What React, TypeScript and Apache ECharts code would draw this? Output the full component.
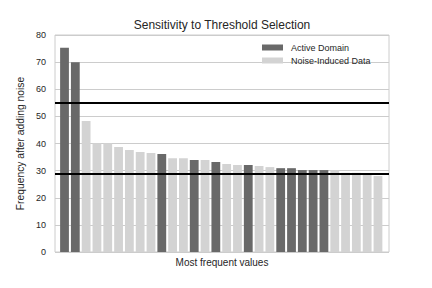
import React, { useEffect, useRef } from "react";
import * as echarts from "echarts";

const values = [75.3, 70.0, 48.3, 40.1, 40.1, 38.7, 37.6, 36.9, 36.5, 36.1, 34.6, 34.6, 33.9, 33.9, 33.2, 32.4, 32.1, 32.1, 31.7, 31.3, 30.9, 30.9, 30.2, 30.2, 30.2, 30.1, 29.2, 29.2, 28.4, 28.0];
const activeFlags = [1, 1, 0, 0, 0, 0, 0, 0, 0, 1, 0, 0, 1, 0, 1, 0, 0, 1, 0, 0, 1, 1, 1, 1, 1, 0, 0, 0, 0, 0];
const thresholds = [55, 29];
const yTicks = [0, 10, 20, 30, 40, 50, 60, 70, 80];
const seriesNames = ["Active Domain", "Noise-Induced Data"];

const FONT = "Liberation Sans, Arial, sans-serif";

export default function App() {
  const ref = useRef<HTMLDivElement>(null);
  useEffect(() => {
    if (!ref.current) return;
    const chart = echarts.init(ref.current, undefined, { renderer: "svg" });
    const activeData = values.map((v, i) => [i, activeFlags[i] ? v : "-"]);
    const noiseData = values.map((v, i) => [i, activeFlags[i] ? "-" : v]);
    chart.setOption({
      animation: false,
      backgroundColor: "#ffffff",
      title: {
        text: "Sensitivity to Threshold Selection",
        left: 222,
        textAlign: "center",
        top: 19,
        padding: 0,
        textStyle: { fontFamily: FONT, fontSize: 12, fontWeight: "normal", color: "#262626" },
      },
      legend: {
        orient: "vertical",
        left: 262,
        top: 43,
        padding: 0,
        itemWidth: 21,
        itemHeight: 6,
        itemGap: 4,
        icon: "rect",
        data: seriesNames,
        textStyle: { fontFamily: FONT, fontSize: 9, color: "#262626", padding: [0, 0, 0, 3] },
      },
      grid: {
        left: 55,
        top: 35,
        width: 334,
        height: 217,
        show: true,
        borderColor: "#cccccc",
        borderWidth: 1,
        containLabel: false,
      },
      xAxis: {
        type: "value",
        min: -0.88,
        max: 30.02,
        name: "Most frequent values",
        nameLocation: "middle",
        nameGap: 5,
        nameTextStyle: { fontFamily: FONT, fontSize: 10, color: "#262626" },
        axisLine: { show: false },
        axisTick: { show: false },
        axisLabel: { show: false },
        splitLine: { show: false },
      },
      yAxis: {
        type: "value",
        min: yTicks[0],
        max: yTicks[yTicks.length - 1],
        interval: 10,
        name: "Frequency after adding noise",
        nameLocation: "middle",
        nameGap: 28,
        nameTextStyle: { fontFamily: FONT, fontSize: 10.3, color: "#262626" },
        axisLine: { show: false },
        axisTick: { show: false },
        axisLabel: { fontFamily: FONT, fontSize: 9, color: "#262626", margin: 9 },
        splitLine: { show: true, lineStyle: { color: "#cccccc", width: 1 } },
      },
      series: [
        {
          name: seriesNames[0],
          type: "bar",
          data: activeData,
          barWidth: 8.8,
          barGap: "-100%",
          itemStyle: { color: "#696969" },
          markLine: {
            silent: true,
            symbol: ["none", "none"],
            label: { show: false },
            lineStyle: { color: "#000000", width: 2, type: "solid" },
            data: thresholds.map((t) => ({ yAxis: t })),
          },
        },
        {
          name: seriesNames[1],
          type: "bar",
          data: noiseData,
          barWidth: 8.8,
          barGap: "-100%",
          itemStyle: { color: "#d3d3d3" },
        },
      ],
    });
    return () => chart.dispose();
  }, []);
  return <div ref={ref} style={{ width: 432, height: 288, position: "absolute", left: 0, top: 0 }} />;
}
